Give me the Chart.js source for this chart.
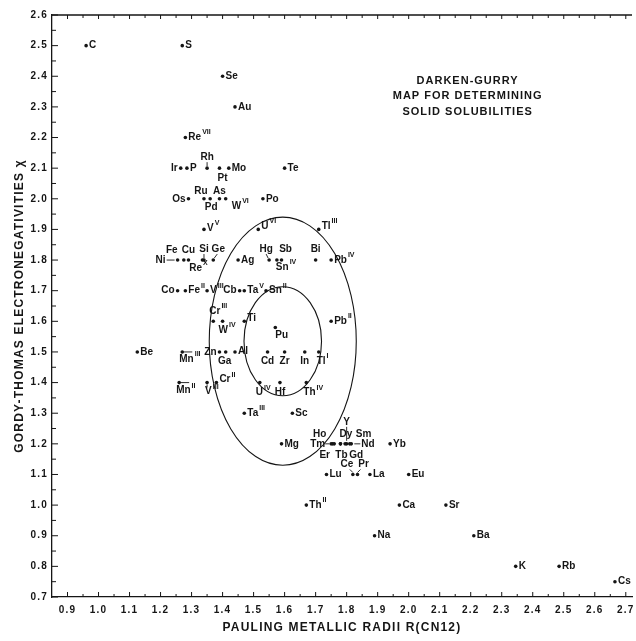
<!DOCTYPE html>
<html>
<head>
<meta charset="utf-8">
<script src="https://cdn.jsdelivr.net/npm/chart.js@4.4.1/dist/chart.umd.min.js"></script>
<style>
body { margin: 0; background: #fff; }
#container { width: 636px; height: 641px; }
</style>
</head>
<body>
<div id="container"><canvas id="chartcanvas" width="636" height="641"></canvas></div>
<script>
// element symbols, one row of the map per line
var symbols = [
    'C', 'S',
    'Se',
    'Au',
    'Re',
    'Ir', 'P', 'Rh', 'Pt', 'Mo', 'Te',
    'Os', 'Ru', 'Pd', 'As', 'W', 'Po',
    'V', 'U', 'Tl',
    'Ni', 'Fe', 'Cu', 'Si', 'Re', 'Ge', 'Ag', 'Hg', 'Sn', 'Sb', 'Bi', 'Pb',
    'Co', 'Fe', 'V', 'Cb', 'Ta', 'Sn',
    'Cr', 'W', 'Ti', 'Pu', 'Pb',
    'Be', 'Mn', 'Zn', 'Ga', 'Al', 'Cd', 'Zr', 'In', 'Tl',
    'Mn', 'V', 'Cr', 'U', 'Hf', 'Th',
    'Ta', 'Sc',
    'Mg', 'Tm', 'Er', 'Ho', 'Dy', 'Tb', 'Gd', 'Y', 'Sm', 'Nd', 'Yb',
    'Lu', 'Ce', 'Pr', 'La', 'Eu',
    'Th', 'Ca', 'Sr',
    'Na', 'Ba',
    'K', 'Rb', 'Cs'
];
// valence superscripts
var valence = [
    '', '',
    '',
    '',
    'VII',
    '', '', '', '', '', '',
    '', '', '', '', 'VI', '',
    'V', 'VI', 'III',
    '', '', '', '', 'X', '', '', '', 'IV', '', '', 'IV',
    '', 'II', 'III', '', 'V', 'II',
    'III', 'IV', '', '', 'II',
    '', 'III', '', '', '', '', '', '', 'I',
    'II', 'III', 'II', 'IV', '', 'IV',
    'III', '',
    '', '', '', '', '', '', '', '', '', '', '',
    '', '', '', '', '',
    'II', '', '',
    '', '',
    '', '', ''
];
// Pauling metallic radius R (CN12)
var radius = [
    0.96, 1.27,
    1.40,
    1.44,
    1.28,
    1.265, 1.285, 1.35, 1.39, 1.42, 1.60,
    1.29, 1.34, 1.36, 1.39, 1.41, 1.53,
    1.34, 1.515, 1.71,
    1.255, 1.275, 1.29, 1.34, 1.335, 1.37, 1.45, 1.55, 1.575, 1.59, 1.70, 1.75,
    1.255, 1.28, 1.35, 1.455, 1.47, 1.54,
    1.37, 1.40, 1.47, 1.57, 1.75,
    1.125, 1.27, 1.39, 1.41, 1.44, 1.545, 1.60, 1.665, 1.71,
    1.26, 1.35, 1.38, 1.52, 1.585, 1.67,
    1.47, 1.625,
    1.59, 1.75, 1.755, 1.76, 1.78, 1.78, 1.795, 1.80, 1.81, 1.815, 1.94,
    1.735, 1.82, 1.835, 1.875, 2.00,
    1.67, 1.97, 2.12,
    1.89, 2.21,
    2.345, 2.485, 2.665
];
// Gordy-Thomas electronegativity
var electroneg = [
    2.5, 2.5,
    2.4,
    2.3,
    2.2,
    2.1, 2.1, 2.1, 2.1, 2.1, 2.1,
    2.0, 2.0, 2.0, 2.0, 2.0, 2.0,
    1.9, 1.9, 1.9,
    1.8, 1.8, 1.8, 1.8, 1.8, 1.8, 1.8, 1.8, 1.8, 1.8, 1.8, 1.8,
    1.7, 1.7, 1.7, 1.7, 1.7, 1.7,
    1.6, 1.6, 1.6, 1.58, 1.6,
    1.5, 1.5, 1.5, 1.5, 1.5, 1.5, 1.5, 1.5, 1.5,
    1.4, 1.4, 1.4, 1.4, 1.4, 1.4,
    1.3, 1.3,
    1.2, 1.2, 1.2, 1.2, 1.2, 1.2, 1.2, 1.2, 1.2, 1.2, 1.2,
    1.1, 1.1, 1.1, 1.1, 1.1,
    1.0, 1.0, 1.0,
    0.9, 0.9,
    0.8, 0.8, 0.75
];

var xTicks = [0.9, 1.0, 1.1, 1.2, 1.3, 1.4, 1.5, 1.6, 1.7, 1.8, 1.9, 2.0, 2.1, 2.2, 2.3, 2.4, 2.5, 2.6, 2.7];
var yTicks = [0.7, 0.8, 0.9, 1.0, 1.1, 1.2, 1.3, 1.4, 1.5, 1.6, 1.7, 1.8, 1.9, 2.0, 2.1, 2.2, 2.3, 2.4, 2.5, 2.6];

// solubility ellipses: centre radius, centre electronegativity, half widths
var ellipseCentre = [1.594, 1.535];
var outerHalf = [0.237, 0.405];
var innerHalf = [0.125, 0.178];

var titleLines = ['DARKEN-GURRY', 'MAP FOR DETERMINING', 'SOLID SOLUBILITIES'];

// label placement: [dx, dy, align, optional leader line] in px from the dot
var R = [3, 0, 'l'], L = [-3, 0, 'r'];
var labelAt = [
    R, R,
    R,
    R,
    R,
    L, R, [0, -11, 'c', [0, -6, 0, -2]], [3, 10, 'c'], R, R,
    L, [-3, -8, 'c'], [1, 8, 'c'], [0, -8, 'c'], [6, 7, 'l'], R,
    [3, -1, 'l'], [3, -3, 'l'], [3, -3, 'l'],
    [-12, 0, 'r', [-11, 0, -3, 0]], [-12, -10, 'c'], [0, -10, 'c'], [0, -11, 'c', [0, -6, 0, -2]], [-4, 8, 'c'],
    [5, -11, 'c', [4, -6, 1, -2]], R, [-3, -11, 'c', [-3, -6, -1, -2]], [-1, 7, 'l'], [4, -11, 'c'], [0, -11, 'c'], R,
    L, R, R, L, R, R,
    [-4, -10, 'l'], [-4, 9, 'l'], [3, -3, 'l'], [0, 8, 'l'], R,
    R, [-3, 7, 'l', [1, 0, 10, 0]], L, [-1, 9, 'c'], [3, -1, 'l'], [0, 9, 'c'], [0, 9, 'c'], [0, 9, 'c'], [-2, 9, 'l'],
    [-3, 8, 'l', [1, 0, 10, 0]], [-2, 9, 'l', [0, 5, 0, 2]], [3, -3, 'l'], [-4, 10, 'l'], [0, 10, 'c'], [-3, 10, 'l'],
    R, R,
    R, [-6, 0, 'r', [-6, 0, -2, 0]], [-8, 11, 'c'], [-8, -10, 'r'], [-1, -10, 'l'], [1, 11, 'c'], [11, 11, 'c'],
    [0, -22, 'c', [0, -17, 0, -3]], [6, -10, 'l'], [10, 0, 'l', [9, 0, 3, 0]], R,
    R, [-6, -10, 'c', [-3, -5, 0, -2]], [6, -10, 'c', [3, -5, 0, -2]], R, R,
    R, R, R,
    R, R,
    R, R, R
];

var FONT = '"Liberation Sans", Arial, sans-serif';
var INK = '#151515';

function drawLabel(c, px, py, name, sup, at) {
    c.font = 'bold 10px ' + FONT;
    var w1 = c.measureText(name).width;
    c.font = 'bold 7px ' + FONT;
    var w2 = sup ? c.measureText(sup).width + 1 : 0;
    var x0 = px + at[0];
    if (at[2] === 'r') x0 -= w1 + w2;
    else if (at[2] === 'c') x0 -= (w1 + w2) / 2;
    var y0 = py + at[1];
    c.font = 'bold 10px ' + FONT;
    c.fillText(name, x0, y0);
    if (sup) {
        c.font = 'bold 7px ' + FONT;
        c.fillText(sup, x0 + w1 + 1, y0 - 5);
    }
    if (at[3]) {
        var l = at[3];
        c.beginPath();
        c.moveTo(px + l[0], py + l[1]);
        c.lineTo(px + l[2], py + l[3]);
        c.stroke();
    }
}

var mapPlugin = {
    id: 'map',
    beforeDraw: function (chart) {
        // spaced lettering for axis titles and tick labels
        if ('letterSpacing' in chart.ctx) chart.ctx.letterSpacing = '1.2px';
    },
    afterDatasetsDraw: function (chart) {
        var c = chart.ctx, xs = chart.scales.x, ys = chart.scales.y, a = chart.chartArea;
        c.save();
        if ('letterSpacing' in c) c.letterSpacing = '0px';
        c.strokeStyle = INK;
        c.fillStyle = INK;

        // top frame line
        c.lineWidth = 1.3;
        c.beginPath();
        c.moveTo(a.left, a.top);
        c.lineTo(a.right, a.top);
        c.stroke();

        // inward tick marks, major and half steps
        c.lineWidth = 1;
        c.beginPath();
        xTicks.forEach(function (v, i) {
            var px = xs.getPixelForValue(v);
            c.moveTo(px, a.bottom); c.lineTo(px, a.bottom - 5);
            c.moveTo(px, a.top); c.lineTo(px, a.top + 4);
            if (i > 0) {
                var m = xs.getPixelForValue((v + xTicks[i - 1]) / 2);
                c.moveTo(m, a.bottom); c.lineTo(m, a.bottom - 3);
                c.moveTo(m, a.top); c.lineTo(m, a.top + 3);
            }
        });
        yTicks.forEach(function (v, i) {
            var py = ys.getPixelForValue(v);
            c.moveTo(a.left, py); c.lineTo(a.left + 6, py);
            if (i > 0) {
                var m = ys.getPixelForValue((v + yTicks[i - 1]) / 2);
                c.moveTo(a.left, m); c.lineTo(a.left + 4, m);
            }
        });
        c.stroke();

        // ellipses
        c.lineWidth = 1.1;
        var cx = xs.getPixelForValue(ellipseCentre[0]);
        var cy = ys.getPixelForValue(ellipseCentre[1]);
        [outerHalf, innerHalf].forEach(function (h) {
            var rx = xs.getPixelForValue(ellipseCentre[0] + h[0]) - cx;
            var ry = cy - ys.getPixelForValue(ellipseCentre[1] + h[1]);
            c.beginPath();
            c.ellipse(cx, cy, rx, ry, 0, 0, Math.PI * 2);
            c.stroke();
        });

        // element labels
        c.lineWidth = 0.9;
        c.textAlign = 'left';
        c.textBaseline = 'middle';
        for (var i = 0; i < symbols.length; i++) {
            drawLabel(c, xs.getPixelForValue(radius[i]), ys.getPixelForValue(electroneg[i]),
                symbols[i], valence[i], labelAt[i]);
        }

        // map title
        c.font = 'bold 11px ' + FONT;
        c.textAlign = 'center';
        if ('letterSpacing' in c) c.letterSpacing = '1px';
        var tx = xs.getPixelForValue(2.19);
        var ty = ys.getPixelForValue(2.385);
        titleLines.forEach(function (t, k) {
            c.fillText(t, tx, ty + k * 15.5);
        });
        c.restore();
    }
};

var points = radius.map(function (r, i) { return { x: r, y: electroneg[i] }; });

var ctx = document.getElementById('chartcanvas');
var myChart = new Chart(ctx, {
    type: 'scatter',
    data: {
        datasets: [{
            data: points,
            pointRadius: 1.8,
            pointBackgroundColor: INK,
            pointBorderWidth: 0,
            showLine: false,
        }],
    },
    options: {
        responsive: false,
        animation: false,
        layout: { padding: { top: 15, right: 3, left: 0, bottom: 0 } },
        plugins: {
            legend: { display: false },
            tooltip: { enabled: false },
        },
        scales: {
            x: {
                type: 'linear',
                min: 0.85,
                max: 2.72,
                afterBuildTicks: function (s) { s.ticks = xTicks.map(function (v) { return { value: v }; }); },
                afterFit: function (s) { s.height = 44; s.paddingLeft = 0; s.paddingRight = 0; },
                grid: { display: false, drawTicks: false },
                border: { display: true, color: INK, width: 1.3 },
                ticks: {
                    color: INK,
                    padding: 7,
                    maxRotation: 0,
                    autoSkip: false,
                    font: { family: FONT, size: 10, weight: 'bold' },
                    callback: function (v) { return v.toFixed(1); },
                },
                title: {
                    display: true,
                    text: 'PAULING METALLIC RADII R(CN12)',
                    color: INK,
                    padding: { top: 0, bottom: 6 },
                    font: { family: FONT, size: 12, weight: 'bold' },
                },
            },
            y: {
                type: 'linear',
                min: 0.7,
                max: 2.6,
                afterBuildTicks: function (s) { s.ticks = yTicks.map(function (v) { return { value: v }; }); },
                afterFit: function (s) { s.width = 52; s.paddingTop = 0; s.paddingBottom = 0; },
                grid: { display: false, drawTicks: false },
                border: { display: true, color: INK, width: 1.3 },
                ticks: {
                    color: INK,
                    padding: 4,
                    font: { family: FONT, size: 10, weight: 'bold' },
                    callback: function (v) { return v.toFixed(1); },
                },
                title: {
                    display: true,
                    text: 'GORDY-THOMAS ELECTRONEGATIVITIES χ',
                    color: INK,
                    padding: { top: 12, bottom: 0 },
                    font: { family: FONT, size: 12, weight: 'bold' },
                },
            },
        },
    },
    plugins: [mapPlugin],
});
</script>
</body>
</html>
